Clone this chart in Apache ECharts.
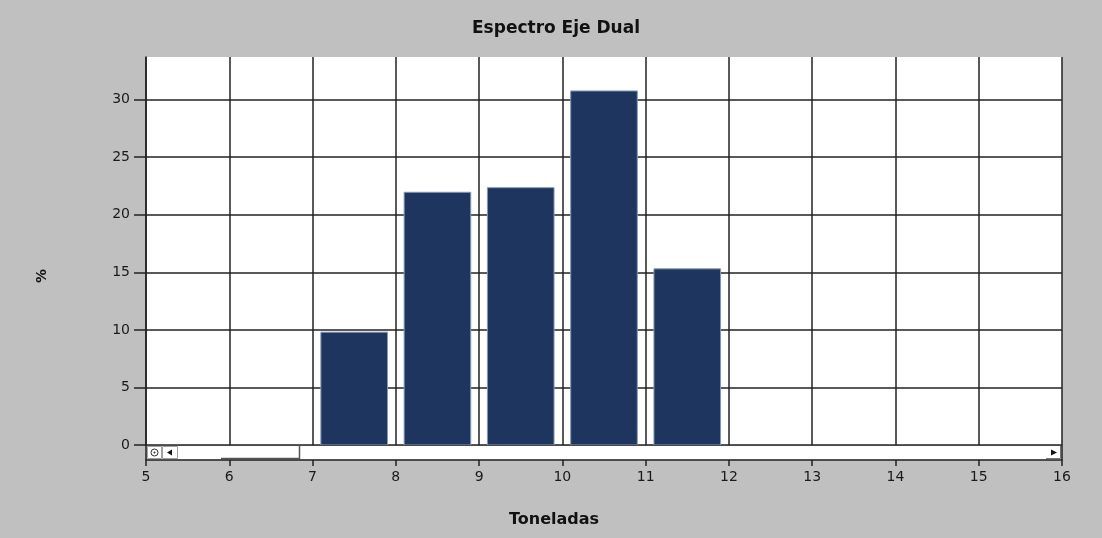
<!DOCTYPE html>
<html>
<head>
<meta charset="utf-8">
<script src="https://cdn.jsdelivr.net/npm/echarts@6/dist/echarts.min.js"></script>
<style>
  html, body { margin: 0; padding: 0; background: #c0c0c0; }
  #chart { width: 1102px; height: 538px; }
</style>
</head>
<body>
<div id="chart"></div>
<script>
// Bin centres (toneladas) and share of axles per bin (%)
const binCenters = [7.5, 8.5, 9.5, 10.5, 11.5];
const percentValues = [9.8, 21.95, 22.35, 30.75, 15.3];
const binWidth = 0.8;

// Axis settings
const xTicks = { min: 5, max: 16, interval: 1 };
const yTicks = { min: 0, max: 33.7, interval: 5 };

const titleText = 'Espectro Eje Dual';
const xName = 'Toneladas';
const yName = '%';

const barData = binCenters.map((c, i) => [c, percentValues[i]]);

const chart = echarts.init(document.getElementById('chart'), null, { renderer: 'canvas' });

const gridLeft = 146, gridTop = 57, gridRight = 40, gridBottom = 93;
const plotRight = 1102 - gridRight;
const plotBottom = 538 - gridBottom;
const barH = 15;

const lineColor = '#222';
const gridLine = { color: lineColor, width: 1.5 };
const labelFont = { color: '#1a1a1a', fontFamily: 'DejaVu Sans', fontSize: 14 };

chart.setOption({
  backgroundColor: '#c0c0c0',
  animation: false,
  graphic: [
    // chart title
    {
      type: 'text', x: 556, y: 29, z: 10,
      style: { text: titleText, font: 'bold 17px "DejaVu Sans"', fill: '#111', align: 'center', verticalAlign: 'middle' }
    },
    // axis names
    {
      type: 'text', x: 554, y: 520, z: 10,
      style: { text: xName, font: 'bold 16px "DejaVu Sans"', fill: '#111', align: 'center', verticalAlign: 'middle' }
    },
    {
      type: 'text', x: 42, y: 276, rotation: Math.PI / 2, z: 10,
      style: { text: yName, font: 'bold 14px "DejaVu Sans"', fill: '#111', align: 'center', verticalAlign: 'middle' }
    },
    // horizontal scroll bar under the plot
    {
      type: 'group', z: 20,
      children: [
        { type: 'rect', shape: { x: gridLeft + 1, y: plotBottom + 1, width: plotRight - gridLeft - 2, height: barH - 1.5 },
          style: { fill: '#ffffff', stroke: null } },
        { type: 'line', shape: { x1: gridLeft, y1: plotBottom, x2: gridLeft, y2: plotBottom + barH },
          style: { stroke: lineColor, lineWidth: 1.5 } },
        { type: 'line', shape: { x1: plotRight, y1: plotBottom, x2: plotRight, y2: plotBottom + barH },
          style: { stroke: lineColor, lineWidth: 1.5 } },
        // zoom-reset button
        { type: 'rect', shape: { x: gridLeft + 1.5, y: plotBottom + 1.5, width: 14, height: barH - 3 },
          style: { fill: '#ffffff', stroke: '#a0a0a0', lineWidth: 1 } },
        { type: 'circle', shape: { cx: gridLeft + 8.5, cy: plotBottom + 7.5, r: 3.5 },
          style: { fill: 'none', stroke: '#333', lineWidth: 1 } },
        { type: 'circle', shape: { cx: gridLeft + 8.5, cy: plotBottom + 7.5, r: 1 },
          style: { fill: '#333' } },
        // left arrow button
        { type: 'rect', shape: { x: gridLeft + 16.5, y: plotBottom + 1.5, width: 15, height: barH - 3 },
          style: { fill: '#ffffff', stroke: '#a0a0a0', lineWidth: 1 } },
        { type: 'polygon', shape: { points: [[gridLeft + 21, plotBottom + 7.5], [gridLeft + 26, plotBottom + 4.5], [gridLeft + 26, plotBottom + 10.5]] },
          style: { fill: '#111' } },
        // scroll thumb
        { type: 'polyline', shape: { points: [[221, plotBottom + barH - 1.5], [299.5, plotBottom + barH - 1.5], [299.5, plotBottom + 1]] },
          style: { stroke: '#555', lineWidth: 1.5, fill: 'none' } },
        // right arrow button
        { type: 'polyline', shape: { points: [[plotRight - 16, plotBottom + barH - 1.5], [plotRight - 1.5, plotBottom + barH - 1.5], [plotRight - 1.5, plotBottom + 1]] },
          style: { stroke: '#777', lineWidth: 1, fill: 'none' } },
        { type: 'polygon', shape: { points: [[plotRight - 5, plotBottom + 7.5], [plotRight - 11, plotBottom + 4.5], [plotRight - 11, plotBottom + 10.5]] },
          style: { fill: '#111' } }
      ]
    }
  ],
  grid: [
    // plotting area
    { left: gridLeft, top: gridTop, right: gridRight, bottom: gridBottom,
      show: true, backgroundColor: '#ffffff', borderWidth: 0 },
    // same width, extended below the scroll bar; carries the x tick labels
    { left: gridLeft, top: gridTop, right: gridRight, bottom: gridBottom - barH,
      show: false }
  ],
  xAxis: [
    {
      gridIndex: 0, type: 'value',
      min: xTicks.min, max: xTicks.max, interval: xTicks.interval,
      axisLine: { show: false }, axisTick: { show: false }, axisLabel: { show: false },
      splitLine: { show: true, lineStyle: gridLine }
    },
    {
      gridIndex: 1, type: 'value',
      min: xTicks.min, max: xTicks.max, interval: xTicks.interval,
      axisLine: { show: true, lineStyle: { color: lineColor, width: 1.5 } },
      axisTick: { show: true, length: 6, lineStyle: { color: lineColor, width: 1.5 } },
      axisLabel: Object.assign({ margin: 10 }, labelFont),
      splitLine: { show: false }
    }
  ],
  yAxis: [
    {
      gridIndex: 0, type: 'value',
      min: yTicks.min, max: yTicks.max, interval: yTicks.interval,
      axisLine: { show: true, lineStyle: { color: lineColor, width: 1.5 } },
      axisTick: { show: true, length: 12, lineStyle: { color: lineColor, width: 1.5 } },
      axisLabel: Object.assign({ margin: 16, showMaxLabel: false }, labelFont),
      splitLine: { show: true, showMaxLine: false, lineStyle: gridLine }
    },
    {
      gridIndex: 1, type: 'value', min: 0, max: 1, show: false
    }
  ],
  series: [{
    type: 'custom',
    xAxisIndex: 0, yAxisIndex: 0,
    data: barData,
    clip: true,
    renderItem: function (params, api) {
      const x = api.value(0), y = api.value(1);
      const p0 = api.coord([x - binWidth / 2, y]);
      const p1 = api.coord([x + binWidth / 2, 0]);
      return {
        type: 'rect',
        shape: { x: p0[0], y: p0[1], width: p1[0] - p0[0], height: p1[1] - p0[1] },
        style: { fill: '#1e365f', stroke: '#8796b3', lineWidth: 1 }
      };
    },
    z: 3
  }]
});
</script>
</body>
</html>
